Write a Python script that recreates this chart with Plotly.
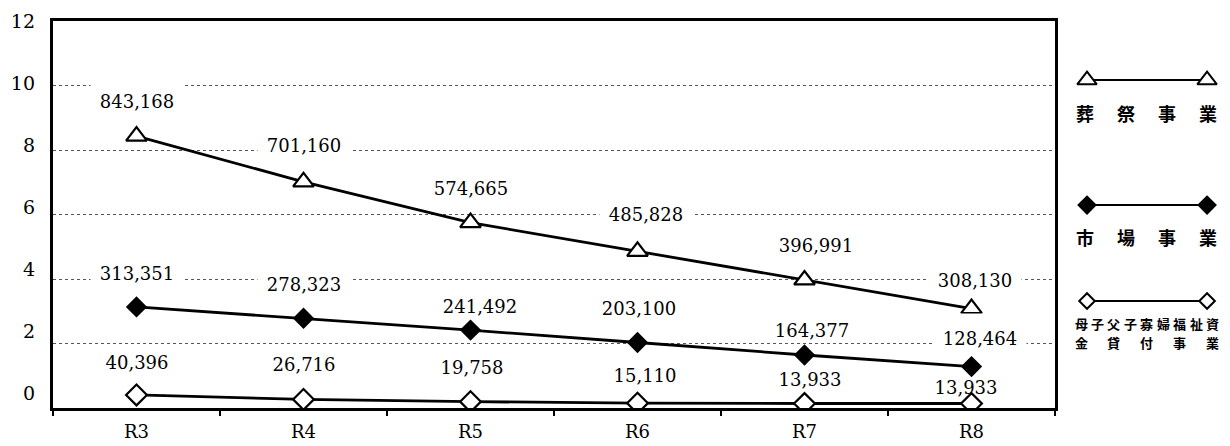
import plotly.graph_objects as go

# ---- data -------------------------------------------------------------
years = ["R3", "R4", "R5", "R6", "R7", "R8"]
funeral = [843168, 701160, 574665, 485828, 396991, 308130]   # 葬祭事業
market = [313351, 278323, 241492, 203100, 164377, 128464]    # 市場事業
loan = [40396, 26716, 19758, 15110, 13933, 13933]            # 母子父子寡婦福祉資金貸付事業
y_tick_values = [0, 2, 4, 6, 8, 10, 12]
UNIT = 100000  # values are plotted in units of 100,000

# ---- styling ----------------------------------------------------------
SERIF = "DejaVu Serif"
GOTHIC = "Noto Sans CJK JP"
INK = "#000000"

series = [
    dict(values=funeral, symbol="triangle-up", fill="white", size=18,
         dy=[35, 37, 35, 37, 35, 29], dx=[0, 0, 0, 8, 11, 3], mask=True),
    dict(values=market, symbol="diamond", fill="black", size=14,
         dy=[34, 34, 24, 35, 25, 29], dx=[0, 0, 9, 1, 7, 8], mask=True),
    dict(values=loan, symbol="diamond", fill="white", size=16,
         dy=[33, 35, 35, 28, 25, 17], dx=[0, 0, 1, 7, 5, -6], mask=False),
]

# value labels sit at the bottom of a white box that reaches a little higher,
# so dotted gridlines just above a label are interrupted
LABEL_BOX_H = 34
LABEL_TEXT_LIFT = 6

fig = go.Figure()

annotations = []
for s in series:
    yv = [v / UNIT for v in s["values"]]
    fig.add_trace(go.Scatter(
        x=years, y=yv, mode="lines+markers",
        line=dict(color=INK, width=2.8),
        marker=dict(symbol=s["symbol"], size=s["size"], color=s["fill"],
                    line=dict(color=INK, width=2.2)),
        hoverinfo="skip", showlegend=False,
    ))
    for yr, v, y, dx, dy in zip(years, s["values"], yv, s["dx"], s["dy"]):
        annotations.append(dict(
            x=yr, y=y, xref="x", yref="y", text=f"{v:,}", showarrow=False,
            xshift=dx, yshift=dy + LABEL_TEXT_LIFT, width=90,
            height=LABEL_BOX_H, valign="bottom",
            bgcolor="white" if s["mask"] else "rgba(0,0,0,0)",
            font=dict(family=SERIF, size=18, color=INK),
        ))

# dummy trace so the label axis is bound to the plot
fig.add_trace(go.Scatter(x=[], y=[], yaxis="y2", showlegend=False, hoverinfo="skip"))

# ---- legend drawn at the right side ------------------------------------
legend_rows = [0.8475, 0.5245, 0.2765]
legend_names = [["葬", "祭", "事", "業"],
                ["市", "場", "事", "業"],
                [["母", "子", "父", "子", "寡", "婦", "福", "祉", "資"],
                 ["金", "貸", "付", "事", "業"]]]
legend_marker_sizes = [17, 13, 12]
for s, row, msize in zip(series, legend_rows, legend_marker_sizes):
    fig.add_trace(go.Scatter(
        x=[0.183, 0.869], y=[row, row], mode="lines+markers",
        xaxis="x3", yaxis="y3",
        line=dict(color=INK, width=2),
        marker=dict(symbol=s["symbol"], size=msize, color=s["fill"],
                    line=dict(color=INK, width=2)),
        hoverinfo="skip", showlegend=False,
    ))


def spread(chars, y, x0, x1, size):
    n = len(chars)
    for i, ch in enumerate(chars):
        annotations.append(dict(
            x=x0 + (x1 - x0) * i / (n - 1), y=y, xref="x3", yref="y3",
            text=ch, showarrow=False,
            font=dict(family=GOTHIC, size=size, color=INK, weight="bold"),
        ))


spread(legend_names[0], 0.762, 0.174, 0.877, 18)
spread(legend_names[1], 0.442, 0.174, 0.877, 18)
spread(legend_names[2][0], 0.2196, 0.149, 0.90, 13)
spread(legend_names[2][1], 0.1705, 0.149, 0.90, 13)

# ---- layout -----------------------------------------------------------
MAIN_DOMAIN = 1002 / 1177

fig.update_layout(
    width=1230, height=446,
    margin=dict(l=53, r=0, t=21, b=38, pad=0),
    paper_bgcolor="white", plot_bgcolor="white",
    font=dict(family=SERIF, color=INK),
    showlegend=False, hovermode=False,
    annotations=annotations,
    xaxis=dict(
        type="category", domain=[0, MAIN_DOMAIN], range=[-0.5, 5.5],
        tickson="boundaries", ticks="outside", ticklen=5, tickwidth=1.5,
        tickcolor=INK, showline=True, linecolor=INK, linewidth=2.5,
        mirror=True, showgrid=False, zeroline=False,
        tickfont=dict(family=SERIF, size=18, color=INK),
        ticklabelstandoff=6,
    ),
    yaxis=dict(
        range=[0, 12], tickvals=y_tick_values, showticklabels=False,
        ticks="", showline=True, linecolor=INK, linewidth=2.5, mirror=True,
        showgrid=True, gridcolor="#555555", griddash="dot", gridwidth=1,
        zeroline=False,
    ),
    yaxis2=dict(
        overlaying="y", anchor="x", side="left",
        range=[-0.48, 12.0], tickvals=y_tick_values,
        ticktext=[str(v) for v in y_tick_values],
        showgrid=False, zeroline=False, showline=False, ticks="",
        tickfont=dict(family=SERIF, size=19, color=INK),
        ticklabelstandoff=17,
    ),
    xaxis3=dict(domain=[MAIN_DOMAIN, 1.0], range=[0, 1], visible=False,
                anchor="y3", fixedrange=True),
    yaxis3=dict(domain=[0, 1], range=[0, 1], visible=False,
                anchor="x3", fixedrange=True),
)

fig.write_html("out.html")
